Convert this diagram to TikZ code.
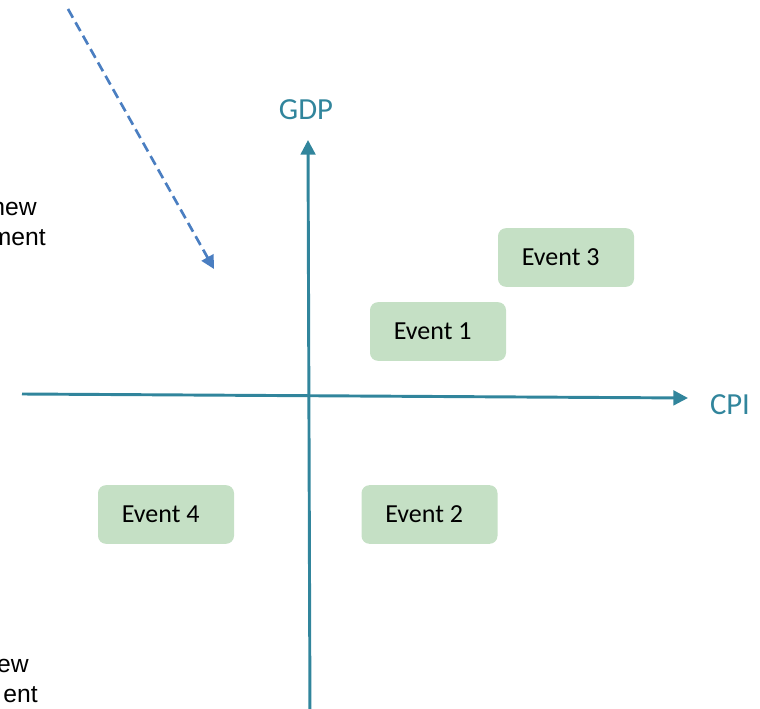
\documentclass[tikz,border=0pt]{standalone}
\usepackage{fontspec}
\setmainfont{Carlito}
\newfontfamily\arialfont{Liberation Sans}
\usetikzlibrary{arrows.meta}
\definecolor{AxisClr}{RGB}{49,133,156}
\definecolor{DashClr}{RGB}{74,126,193}
\definecolor{EventClr}{RGB}{197,224,197}

\tikzset{
  axis/.style={draw=AxisClr,line width=2.2pt,-{Triangle[length=11pt,width=11pt]}},
  axislabel/.style={text=AxisClr,font=\fontsize{23}{27}\selectfont,inner sep=0pt},
  eventbox/.style={fill=EventClr,rounded corners=6pt,minimum width=102pt,
    minimum height=44pt,inner sep=0pt,font=\fontsize{19.5}{23}\selectfont},
  sidetext/.style={font=\arialfont\fontsize{18.5}{22}\selectfont,inner sep=0pt,anchor=base east},
}

\begin{document}
\begin{tikzpicture}[x=0.75pt,y=-0.75pt]
\useasboundingbox (0,0) rectangle (760,709);
\clip (0,0) rectangle (760,709);

% axes
\coordinate (xstart) at (22,394);
\coordinate (xend) at (688,398);
\coordinate (ystart) at (310,720);
\coordinate (yend) at (308,140);
\node[axislabel] (gdp) at (306,110) {GDP};
\node[axislabel] (cpi) at (730,405) {CPI};
\draw[axis] (xstart) -- (xend);
\draw[axis] (ystart) -- (yend);

% dashed pointer
\coordinate (dstart) at (68,9);
\coordinate (dend) at (214,269);
\draw[draw=DashClr,line width=2pt,dash pattern=on 7.5pt off 4pt,
  -{Triangle[length=10pt,width=10pt]}] (dstart) -- (dend);

% events
\node[eventbox] (ev3) at (566,257.5) {Event 3\hspace*{8pt}};
\node[eventbox] (ev1) at (438,331.5) {Event 1\hspace*{8pt}};
\node[eventbox] (ev4) at (166,514.5) {Event 4\hspace*{8pt}};
\node[eventbox] (ev2) at (429.5,514.5) {Event 2\hspace*{8pt}};

% clipped side notes
\node[sidetext] (new1) at (37,216) {new};
\node[sidetext] (ment1) at (46,246) {ment};
\node[sidetext] (new2) at (29,672) {ew};
\node[sidetext] (ment2) at (38,702) {ent};

\end{tikzpicture}
\end{document}
